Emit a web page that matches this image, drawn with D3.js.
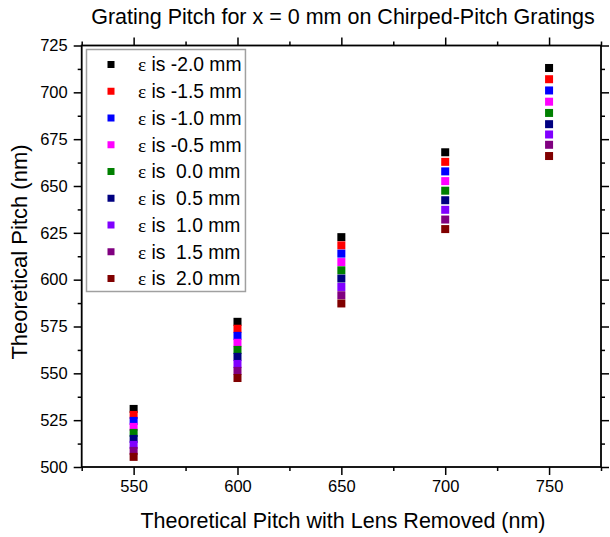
<!DOCTYPE html>
<html>
<head>
<meta charset="utf-8">
<script src="https://cdn.jsdelivr.net/npm/d3@7"></script>
<style>
  body { margin: 0; background: #fff; }
  text { font-family: "Liberation Sans", Arial, sans-serif; }
</style>
</head>
<body>
<script>
// x values (lens removed pitch, nm)
var xVals = [550, 600, 650, 700, 750];

// epsilon series
var epsLabels = ["-2.0", "-1.5", "-1.0", "-0.5", " 0.0", " 0.5", " 1.0", " 1.5", " 2.0"];
var colors = ["#000000", "#ff0000", "#0000ff", "#ff00ff", "#008000", "#000080", "#8000ff", "#800080", "#800000"];

var epsM20 = [531.0, 577.5, 622.7, 668.0, 713.0];
var epsM15 = [527.8, 573.8, 618.3, 662.9, 707.0];
var epsM10 = [524.6, 570.0, 613.9, 657.8, 701.0];
var epsM05 = [521.4, 566.3, 609.4, 652.6, 695.0];
var eps00  = [518.2, 562.5, 605.0, 647.5, 689.0];
var epsP05 = [515.0, 558.8, 600.6, 642.4, 683.0];
var epsP10 = [511.8, 555.0, 596.1, 637.3, 677.5];
var epsP15 = [508.6, 551.3, 591.7, 632.1, 672.0];
var epsP20 = [505.4, 547.5, 587.3, 627.0, 666.0];

var series = [epsM20, epsM15, epsM10, epsM05, eps00, epsP05, epsP10, epsP15, epsP20];

var xTicks = [550, 600, 650, 700, 750];
var yTicks = [500, 525, 550, 575, 600, 625, 650, 675, 700, 725];

var width = 610, height = 537;
var mLeft = 81.7, mRight = 601, mTop = 45.5, mBottom = 467;

var svg = d3.select("body").append("svg").attr("width", width).attr("height", height);

var x = d3.scaleLinear().domain([525, 775]).range([mLeft, mRight]);
var y = d3.scaleLinear().domain([500, 725]).range([mBottom, mTop]);

var xMinor = d3.range(525, 776, 25).filter(v => xTicks.indexOf(v) < 0);
var yMinor = d3.range(500, 726, 12.5).filter(v => yTicks.indexOf(v) < 0);

function styleAxis(g) {
    g.selectAll(".domain").remove();
    g.selectAll("line").attr("stroke", "#000").attr("stroke-width", 1.5);
    g.selectAll("text").attr("font-size", 16.5).attr("fill", "#000")
        .style("font-family", "'Liberation Sans', Arial, sans-serif");
}

// bottom
svg.append("g").attr("transform", "translate(0," + mBottom + ")")
    .call(d3.axisBottom(x).tickValues(xTicks).tickSize(8).tickPadding(5).tickFormat(d3.format("d")))
    .call(styleAxis);
svg.append("g").attr("transform", "translate(0," + mBottom + ")")
    .call(d3.axisBottom(x).tickValues(xMinor).tickSize(4).tickFormat(""))
    .call(styleAxis);
// top
svg.append("g").attr("transform", "translate(0," + mTop + ")")
    .call(d3.axisTop(x).tickValues(xTicks).tickSize(8).tickFormat(""))
    .call(styleAxis);
svg.append("g").attr("transform", "translate(0," + mTop + ")")
    .call(d3.axisTop(x).tickValues(xMinor).tickSize(4).tickFormat(""))
    .call(styleAxis);
// left
svg.append("g").attr("transform", "translate(" + mLeft + ",0)")
    .call(d3.axisLeft(y).tickValues(yTicks).tickSize(8).tickPadding(6).tickFormat(d3.format("d")))
    .call(styleAxis);
svg.append("g").attr("transform", "translate(" + mLeft + ",0)")
    .call(d3.axisLeft(y).tickValues(yMinor).tickSize(4).tickFormat(""))
    .call(styleAxis);
// right
svg.append("g").attr("transform", "translate(" + mRight + ",0)")
    .call(d3.axisRight(y).tickValues(yTicks).tickSize(8).tickFormat(""))
    .call(styleAxis);
svg.append("g").attr("transform", "translate(" + mRight + ",0)")
    .call(d3.axisRight(y).tickValues(yMinor).tickSize(4).tickFormat(""))
    .call(styleAxis);

// frame
svg.append("rect")
    .attr("x", mLeft).attr("y", mTop)
    .attr("width", mRight - mLeft).attr("height", mBottom - mTop)
    .attr("fill", "none").attr("stroke", "#000").attr("stroke-width", 1.8);

// points
var sz = 8;
series.forEach(function(vals, i) {
    svg.append("g").selectAll("rect").data(vals).enter()
        .append("rect")
        .attr("x", (d, j) => x(xVals[j]) - sz / 2)
        .attr("y", d => y(d) - sz / 2)
        .attr("width", sz).attr("height", sz)
        .attr("fill", colors[i]);
});

// legend
var legend = svg.append("g");
var box = legend.append("rect")
    .attr("x", 86.5).attr("y", 49.5).attr("width", 160).attr("height", 242)
    .attr("fill", "#fff").attr("stroke", "#a0a0a0").attr("stroke-width", 1.5);

var maxLen = 0;
epsLabels.forEach(function(lab, i) {
    var ly = 64.5 + i * 26.75;
    legend.append("rect")
        .attr("x", 111 - 3.5).attr("y", ly - 3.5).attr("width", 7).attr("height", 7)
        .attr("fill", colors[i]);
    var t = legend.append("text")
        .attr("x", 138).attr("y", ly + 6.8)
        .attr("font-size", 19.3).attr("fill", "#000")
        .style("white-space", "pre");
    t.append("tspan").style("font-family", "'Liberation Serif', 'Times New Roman', serif").text("\u03b5");
    t.append("tspan").text(" is " + lab + " mm");
    maxLen = Math.max(maxLen, t.node().getComputedTextLength());
});
// fit the box round the longest entry
box.attr("width", 138 + maxLen + 4 - 86.5);

// titles
svg.append("text")
    .attr("x", 343).attr("y", 24).attr("text-anchor", "middle")
    .attr("font-size", 21.5).text("Grating Pitch for x = 0 mm on Chirped-Pitch Gratings");

svg.append("text")
    .attr("x", 343).attr("y", 528).attr("text-anchor", "middle")
    .attr("font-size", 21.5).text("Theoretical Pitch with Lens Removed (nm)");

svg.append("text")
    .attr("transform", "translate(27," + 252 + ") rotate(-90)")
    .attr("text-anchor", "middle")
    .attr("font-size", 22).text("Theoretical Pitch (nm)");
</script>
</body>
</html>
